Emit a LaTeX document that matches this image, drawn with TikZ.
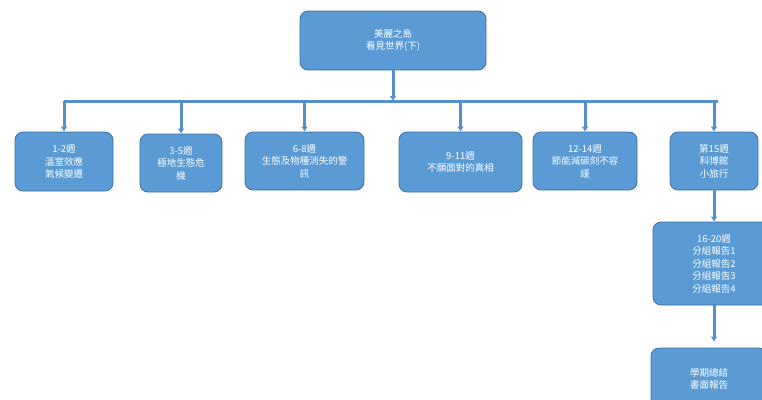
\documentclass[tikz,border=0pt]{standalone}
\usepackage{fontspec}
\setmainfont{Noto Sans CJK TC}
\usetikzlibrary{arrows.meta,positioning}
\definecolor{boxblue}{HTML}{5B9BD5}
\definecolor{boxline}{HTML}{41719C}
\definecolor{linkblue}{HTML}{5590CC}

\begin{document}
\begin{tikzpicture}[x=1pt, y=-1pt]
		\tikzstyle{week}=[rectangle, rounded corners=8pt, fill=boxblue, draw=boxline, line width=0.8pt, text=white, align=center, font=\fontsize{9.5}{12.5}\selectfont, inner sep=1pt]
		\tikzstyle{connect}=[-{Latex[length=5pt,width=7pt]}, line width=3pt, draw=linkblue]
		\tikzstyle{bar}=[line width=3pt, draw=linkblue]
		\clip (0,0) rectangle (762,399);
		\fill[white] (0,0) rectangle (762,399);
		\node[week, minimum width=186pt, minimum height=59pt] (title) at (393,40.5) {美麗之島\\看見世界(下)};
		\node[week, minimum width=98pt, minimum height=59pt] (w1) at (64,161.5) {1-2週\\溫室效應\\氣候變遷};
		\node[week, minimum width=82pt, minimum height=58pt] (w3) at (181,163) {3-5週\\極地生態危\\機};
		\node[week, minimum width=119pt, minimum height=58pt] (w6) at (304.5,161) {6-8週\\生態及物種消失的警\\訊};
		\node[week, minimum width=123pt, minimum height=60pt] (w9) at (460.5,162) {9-11週\\不願面對的真相};
		\node[week, minimum width=104pt, minimum height=58pt] (w12) at (585,161) {12-14週\\節能減碳刻不容\\緩};
		\node[week, minimum width=88pt, minimum height=58pt] (w15) at (714,161) {第15週\\科博館\\小旅行};
		\node[week, minimum width=122pt, minimum height=83pt] (w16) at (714,263.5) {16-20週\\分組報告1\\分組報告2\\分組報告3\\分組報告4};
		\node[week, minimum width=116pt, minimum height=62pt] (end) at (709,379) {學期總結\\書面報告};
		\coordinate (barL) at (64,101);
		\coordinate (barR) at (718,101);
		%\coordinate (barM) at (393,101);
		\draw[bar] (barL) -- (barR);
		\draw[connect] (title.south) -- (title.south |- barL);
		\path
		(w1.north |- barL) edge [connect] (w1.north)
		(w3.north |- barL) edge [connect] (w3.north)
		(w6.north |- barL) edge [connect] (w6.north)
		(w9.north |- barL) edge [connect] (w9.north)
		(w12.north |- barL) edge [connect] (w12.north)
		(w15.north |- barL) edge [connect] (w15.north)
		(w15.south) edge [connect] (w16.north)
		(w16.south) edge [connect, shorten >=6pt] (w16.south |- end.north)
		;
\end{tikzpicture}
\end{document}
